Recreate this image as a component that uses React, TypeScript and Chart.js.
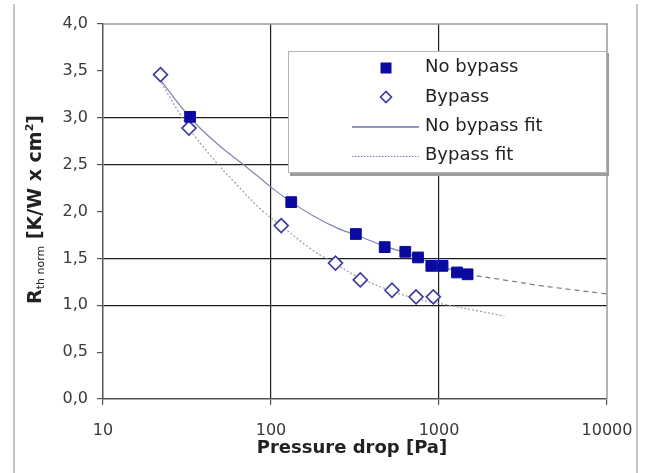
import React, { useEffect, useRef } from 'react';
import { Chart, registerables } from 'chart.js';

Chart.register(...registerables);

// Measured thermal resistance vs. pressure drop
const pressureNoBypass = [33, 132, 320, 475, 630, 750, 900, 1050, 1280, 1480];
const rthNoBypass = [3.01, 2.1, 1.76, 1.62, 1.57, 1.51, 1.42, 1.42, 1.35, 1.33];

const pressureBypass = [22, 32.5, 115, 242, 340, 525, 730, 925];
const rthBypass = [3.46, 2.89, 1.85, 1.45, 1.27, 1.16, 1.09, 1.09];

// Trend lines
const fitNoBypassP = [21, 33, 48, 72, 100, 132, 180, 250, 320, 475, 630, 750, 900, 1050, 1280, 1480, 2650, 4000, 10000];
const fitNoBypassR = [3.45, 3.0, 2.72, 2.47, 2.26, 2.1, 1.95, 1.82, 1.75, 1.63, 1.56, 1.51, 1.45, 1.41, 1.36, 1.33, 1.26, 1.21, 1.12];
const fitNoBypassMeasuredEnd = 1480;

const fitBypassP = [21, 32.5, 48, 63, 86, 115, 170, 242, 340, 525, 730, 1000, 1760, 2450];
const fitBypassR = [3.45, 2.89, 2.51, 2.28, 2.03, 1.85, 1.61, 1.44, 1.29, 1.15, 1.07, 1.02, 0.935, 0.885];

const xTickValues = [10, 100, 1000, 10000];
const xGridValues = [100, 1000];
const yGridValues = [1.0, 1.5, 2.5, 3.0];

const legendLabels = ['No bypass', 'Bypass', 'No bypass fit', 'Bypass fit'];

const xTitle = 'Pressure drop [Pa]';

const NAVY = '#0a0aa0';
const DIAMOND = '#3a3a9e';
const FONT = "'DejaVu Sans', 'Liberation Sans', sans-serif";

const zip = (xs: number[], ys: number[]) => xs.map((x, i) => ({ x, y: ys[i] }));

function drawSquare(ctx: CanvasRenderingContext2D, x: number, y: number, side: number) {
  ctx.fillStyle = NAVY;
  ctx.fillRect(x - side / 2, y - side / 2, side, side);
}

function drawDiamond(ctx: CanvasRenderingContext2D, x: number, y: number, r: number) {
  ctx.beginPath();
  ctx.moveTo(x - r, y);
  ctx.lineTo(x, y - r);
  ctx.lineTo(x + r, y);
  ctx.lineTo(x, y + r);
  ctx.closePath();
  ctx.fillStyle = '#fff';
  ctx.fill();
  ctx.strokeStyle = DIAMOND;
  ctx.lineWidth = 1.6;
  ctx.stroke();
}

const decor = {
  id: 'decor',
  beforeDraw(chart: any) {
    const { ctx, width, height } = chart;
    ctx.save();
    ctx.fillStyle = '#fff';
    ctx.fillRect(0, 0, width, height);
    // page frame
    ctx.strokeStyle = '#c4c4c4';
    ctx.lineWidth = 2;
    ctx.beginPath();
    ctx.moveTo(14, 4);
    ctx.lineTo(14, height);
    ctx.moveTo(637, 4);
    ctx.lineTo(637, height);
    ctx.stroke();
    ctx.restore();
  },
  afterDatasetsDraw(chart: any) {
    const { ctx, chartArea } = chart;
    const { left, right, top, bottom } = chartArea;
    ctx.save();
    // plot frame (top and right)
    ctx.strokeStyle = '#9a9a9a';
    ctx.lineWidth = 1.5;
    ctx.beginPath();
    ctx.moveTo(left, top);
    ctx.lineTo(right, top);
    ctx.lineTo(right, bottom);
    ctx.stroke();

    // legend box with shadow
    const bx0 = 288, by0 = 51, bx1 = right, by1 = 173;
    ctx.fillStyle = '#9c9c9c';
    ctx.fillRect(bx0 + 2, by0 + 2, bx1 - bx0, by1 - by0 + 1);
    ctx.fillStyle = '#fff';
    ctx.fillRect(bx0, by0, bx1 - bx0, by1 - by0);
    ctx.strokeStyle = '#b4b4b4';
    ctx.lineWidth = 1;
    ctx.strokeRect(bx0 + 0.5, by0 + 0.5, bx1 - bx0 - 1, by1 - by0 - 1);

    const markerX = 386;
    const textX = 425;
    drawSquare(ctx, markerX, 68, 11);
    drawDiamond(ctx, markerX, 97, 5.5);

    ctx.lineWidth = 1.2;
    ctx.strokeStyle = '#2a2a8a';
    ctx.setLineDash([]);
    ctx.beginPath();
    ctx.moveTo(352, 127);
    ctx.lineTo(419, 127);
    ctx.stroke();

    ctx.strokeStyle = '#7a7aa0';
    ctx.setLineDash([1.5, 1.5]);
    ctx.beginPath();
    ctx.moveTo(352, 156.5);
    ctx.lineTo(419, 156.5);
    ctx.stroke();
    ctx.setLineDash([]);

    ctx.fillStyle = '#222';
    ctx.font = `18px ${FONT}`;
    ctx.textBaseline = 'alphabetic';
    ctx.textAlign = 'left';
    const baselines = [72, 102, 131, 160];
    legendLabels.forEach((t, i) => ctx.fillText(t, textX, baselines[i]));
    ctx.restore();
  },
  afterDraw(chart: any) {
    const { ctx, chartArea } = chart;
    ctx.save();
    ctx.fillStyle = '#222';
    ctx.textBaseline = 'alphabetic';

    // x title
    ctx.font = `bold 18px ${FONT}`;
    ctx.textAlign = 'center';
    ctx.fillText(xTitle, (chartArea.left + chartArea.right) / 2 - 3, 453);

    // y title: R_th norm [K/W x cm²]
    const parts = [
      { t: 'R', font: `bold 19px ${FONT}`, dy: 0 },
      { t: 'th norm', font: `11px ${FONT}`, dy: 3 },
      { t: ' [K/W x cm', font: `bold 19px ${FONT}`, dy: 0 },
      { t: '2', font: `bold 11px ${FONT}`, dy: -8 },
      { t: ']', font: `bold 19px ${FONT}`, dy: 0 },
    ];
    let total = 0;
    const widths = parts.map((p) => {
      ctx.font = p.font;
      const w = ctx.measureText(p.t).width;
      total += w;
      return w;
    });
    const cy = (chartArea.top + chartArea.bottom) / 2 - 2;
    ctx.translate(40.5, cy);
    ctx.rotate(-Math.PI / 2);
    ctx.textAlign = 'left';
    let x = -total / 2;
    parts.forEach((p, i) => {
      ctx.font = p.font;
      ctx.fillText(p.t, x, p.dy);
      x += widths[i];
    });
    ctx.restore();
  },
};

export default function App() {
  const ref = useRef<HTMLCanvasElement>(null);

  useEffect(() => {
    if (!ref.current) return;
    const chart = new Chart(ref.current, {
      type: 'scatter',
      data: {
        datasets: [
          {
            label: legendLabels[0],
            data: zip(pressureNoBypass, rthNoBypass),
            pointStyle: 'rect',
            pointRadius: 7.6,
            backgroundColor: NAVY,
            borderColor: NAVY,
            borderWidth: 1,
            order: 0,
          },
          {
            label: legendLabels[1],
            data: zip(pressureBypass, rthBypass),
            pointStyle: 'rectRot',
            pointRadius: 7,
            backgroundColor: '#fff',
            borderColor: DIAMOND,
            borderWidth: 1.6,
            order: 1,
          },
          {
            type: 'line',
            label: legendLabels[2],
            data: zip(fitNoBypassP, fitNoBypassR),
            showLine: true,
            pointRadius: 0,
            borderColor: '#8484b0',
            borderWidth: 1.2,
            tension: 0.35,
            segment: {
              borderDash: (c: any) => (c.p0.parsed.x >= fitNoBypassMeasuredEnd ? [5, 4] : undefined),
              borderColor: (c: any) => (c.p0.parsed.x >= fitNoBypassMeasuredEnd ? '#7c7c7c' : undefined),
            },
            order: 2,
          } as any,
          {
            type: 'line',
            label: legendLabels[3],
            data: zip(fitBypassP, fitBypassR),
            showLine: true,
            pointRadius: 0,
            borderColor: '#9a9ab0',
            borderWidth: 1.2,
            borderDash: [2, 2],
            tension: 0.35,
            order: 3,
          } as any,
        ],
      },
      options: {
        responsive: false,
        animation: false,
        layout: { padding: { left: 0, top: 24, right: 38, bottom: 0 } },
        plugins: {
          legend: { display: false },
          tooltip: { enabled: false },
        },
        scales: {
          x: {
            type: 'logarithmic',
            min: 10,
            max: 10000,
            afterFit: (s: any) => {
              s.height = 74;
              s.paddingLeft = 0;
              s.paddingRight = 0;
            },
            afterBuildTicks: (s: any) => {
              s.ticks = xTickValues.map((v) => ({ value: v }));
            },
            ticks: {
              autoSkip: false,
              maxRotation: 0,
              padding: 16,
              color: '#3a3a3a',
              font: { family: FONT, size: 16 },
              callback: (v: any) => String(v),
            },
            grid: {
              color: (c: any) => (xGridValues.includes(c.tick?.value) ? '#1e1e1e' : 'rgba(0,0,0,0)'),
              tickColor: '#555',
              tickLength: 6,
              lineWidth: 1.2,
            },
            border: { display: true, color: '#555', width: 1.5 },
          },
          y: {
            type: 'linear',
            min: 0,
            max: 4,
            afterFit: (s: any) => {
              s.width = 103;
              s.paddingTop = 0;
              s.paddingBottom = 0;
            },
            ticks: {
              stepSize: 0.5,
              padding: 9,
              color: '#3a3a3a',
              font: { family: FONT, size: 16 },
              callback: (v: any) => Number(v).toFixed(1).replace('.', ','),
            },
            grid: {
              color: (c: any) => (yGridValues.includes(c.tick?.value) ? '#1e1e1e' : 'rgba(0,0,0,0)'),
              tickColor: '#555',
              tickLength: 6,
              lineWidth: 1.2,
            },
            border: { display: true, color: '#555', width: 1.5 },
          },
        },
      },
      plugins: [decor],
    });
    return () => chart.destroy();
  }, []);

  return (
    <div style={{ position: 'absolute', left: 0, top: 0, width: 645, height: 473, background: '#fff' }}>
      <canvas ref={ref} width={645} height={473} style={{ width: 645, height: 473, display: 'block' }} />
    </div>
  );
}
